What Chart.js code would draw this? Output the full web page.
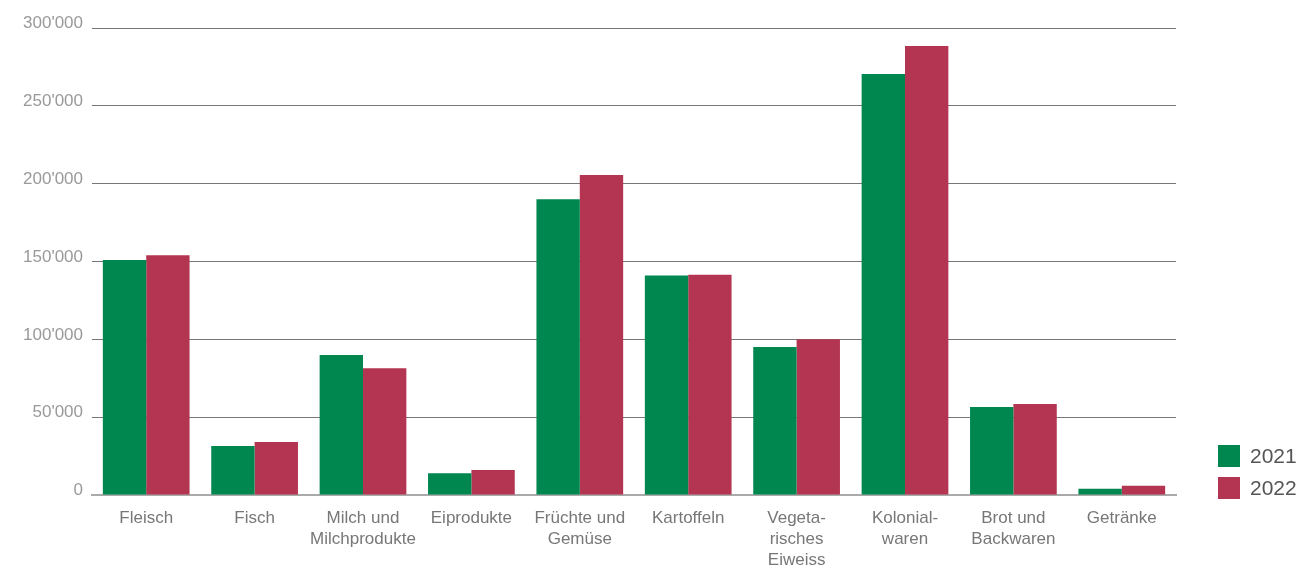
<!DOCTYPE html>
<html>
<head>
<meta charset="utf-8">
<script src="https://cdn.jsdelivr.net/npm/chart.js@4"></script>
<style>
  html, body { margin: 0; padding: 0; background: #fff; overflow: hidden; }
  #wrap { width: 1296px; height: 565px; position: relative; }
</style>
</head>
<body>
<div id="wrap"><canvas id="chart"></canvas></div>
<script>
// categories (multi-line labels as in the original)
const categories = [
  "Fleisch",
  "Fisch",
  ["Milch und", "Milchprodukte"],
  "Eiprodukte",
  ["Früchte und", "Gemüse"],
  "Kartoffeln",
  ["Vegeta-", "risches", "Eiweiss"],
  ["Kolonial-", "waren"],
  ["Brot und", "Backwaren"],
  "Getränke"
];
const seriesNames = ["2021", "2022"];
const values2021 = [151000, 31500, 90000, 14000, 190000, 141000, 95000, 270500, 56500, 4000];
const values2022 = [154000, 34000, 81500, 16000, 205500, 141500, 100000, 288500, 58500, 6000];
const yTicks = [0, 50000, 100000, 150000, 200000, 250000, 300000];

const GREEN = "#00874f";
const RED = "#b43551";
const FONT = "'Liberation Sans', Arial, sans-serif";

function fmt(v) {
  return String(v).replace(/\B(?=(\d{3})+(?!\d))/g, "'");
}

// small legend drawn from the datasets, placed bottom right like the original
const sideLegend = {
  id: "sideLegend",
  afterDraw(chart) {
    const ctx = chart.ctx;
    ctx.save();
    ctx.font = "21px " + FONT;
    ctx.textBaseline = "middle";
    chart.data.datasets.forEach((ds, i) => {
      const y = 445 + i * 32;
      ctx.fillStyle = ds.backgroundColor;
      ctx.fillRect(1218, y, 22, 22);
      ctx.fillStyle = "#555";
      ctx.fillText(ds.label, 1250, y + 12);
    });
    ctx.restore();
  }
};

new Chart(document.getElementById("chart"), {
  type: "bar",
  data: {
    labels: categories,
    datasets: [
      { label: seriesNames[0], data: values2021, backgroundColor: GREEN },
      { label: seriesNames[1], data: values2022, backgroundColor: RED }
    ]
  },
  options: {
    responsive: true,
    maintainAspectRatio: false,
    animation: false,
    layout: { padding: { top: 28, right: 120, left: 0, bottom: 0 } },
    datasets: { bar: { categoryPercentage: 0.8, barPercentage: 1.0 } },
    plugins: {
      legend: { display: false },
      tooltip: { enabled: false }
    },
    scales: {
      x: {
        grid: { display: false },
        border: { display: true, color: "#aaa", width: 2 },
        ticks: {
          color: "#777",
          font: { family: FONT, size: 17, lineHeight: "21px" },
          padding: 5,
          maxRotation: 0,
          autoSkip: false
        },
        afterFit(scale) { scale.height = 70; }
      },
      y: {
        min: 0,
        max: 300000,
        afterBuildTicks(scale) { scale.ticks = yTicks.map(v => ({ value: v })); },
        grid: {
          color: ctx => ctx.tick && ctx.tick.value === 0 ? "rgba(0,0,0,0)" : "#777",
          lineWidth: 1,
          drawTicks: false
        },
        border: { display: false },
        ticks: {
          color: "#999",
          font: { family: FONT, size: 17, lineHeight: "9px" },
          padding: 9,
          // second empty line nudges the label a little above its gridline
          callback: v => [fmt(v), ""]
        },
        afterFit(scale) { scale.width = 92; }
      }
    }
  },
  plugins: [sideLegend]
});
</script>
</body>
</html>
